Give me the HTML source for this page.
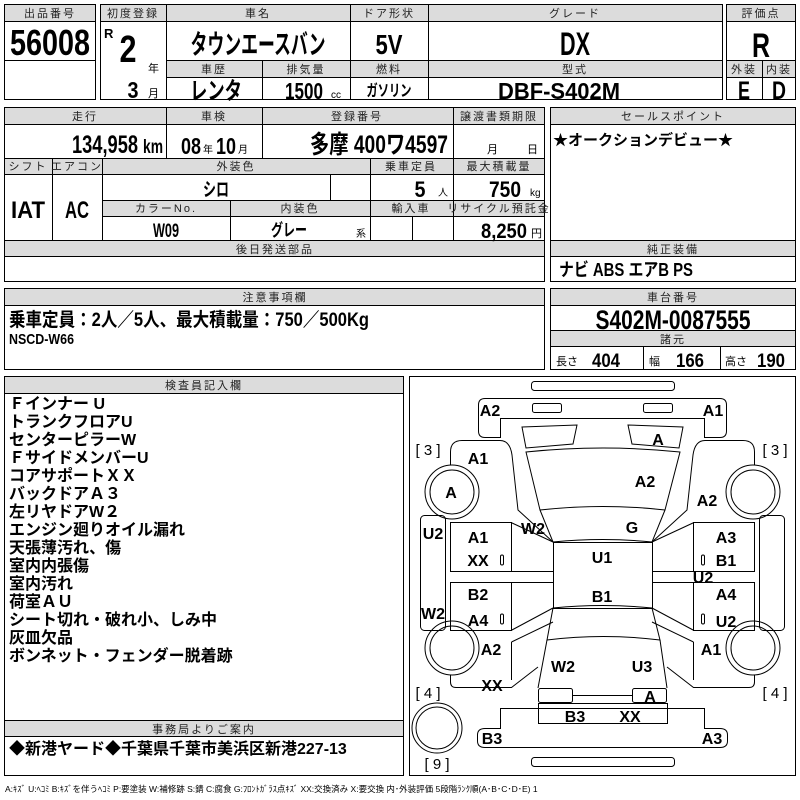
<!DOCTYPE html>
<html><head><meta charset="utf-8"><style>
html,body{margin:0;padding:0;background:#fff;width:800px;height:800px;overflow:hidden}
svg{display:block}
text{font-family:"Liberation Sans","Noto Sans CJK JP",sans-serif;fill:#000}
.h{font-size:11px;text-anchor:middle;letter-spacing:2px;fill:#222}
.b{font-weight:bold;text-anchor:middle}
.hd{fill:#dcdcdc}
.l{font-size:16px;font-weight:bold;text-anchor:middle}
.ln{stroke:#000;stroke-width:1;fill:none}
.ins{font-size:16px;font-weight:bold}
</style></head><body>
<svg width="800" height="800" viewBox="0 0 800 800" xmlns="http://www.w3.org/2000/svg">
<!-- block 1 -->
<rect class="hd" x="4" y="4" width="92" height="17"/>
<rect class="ln" x="4.5" y="4.5" width="91" height="95"/>
<line class="ln" x1="4" y1="21.5" x2="96" y2="21.5"/><line class="ln" x1="4" y1="60.5" x2="96" y2="60.5"/>
<text class="h" x="50" y="17">出品番号</text>
<text class="b" x="50" y="55" font-size="36" textLength="80" lengthAdjust="spacingAndGlyphs">56008</text>
<!-- block 2 -->
<rect class="hd" x="100" y="4" width="623" height="17"/>
<rect class="hd" x="166" y="60" width="557" height="17"/>
<rect class="ln" x="100.5" y="4.5" width="622" height="95"/>
<line class="ln" x1="100" y1="21.5" x2="723" y2="21.5"/>
<line class="ln" x1="166" y1="60.5" x2="723" y2="60.5"/>
<line class="ln" x1="166" y1="77.5" x2="723" y2="77.5"/>
<line class="ln" x1="166.5" y1="4" x2="166.5" y2="100"/>
<line class="ln" x1="350.5" y1="4" x2="350.5" y2="100"/>
<line class="ln" x1="428.5" y1="4" x2="428.5" y2="100"/>
<line class="ln" x1="262.5" y1="60" x2="262.5" y2="100"/>
<text class="h" x="133" y="17" letter-spacing="0">初度登録</text>
<text class="h" x="258" y="17" letter-spacing="8">車名</text>
<text class="h" x="389" y="17" letter-spacing="0">ドア形状</text>
<text class="h" x="575" y="17" letter-spacing="6">グレード</text>
<text x="104" y="38" font-size="13" font-weight="bold">R</text>
<text class="b" x="128" y="62" font-size="38" textLength="17" lengthAdjust="spacingAndGlyphs">2</text>
<text x="148" y="72" font-size="11">年</text>
<text class="b" x="133" y="98" font-size="23" textLength="11" lengthAdjust="spacingAndGlyphs">3</text>
<text x="148" y="97" font-size="11">月</text>
<text class="b" x="258" y="54" font-size="27" textLength="135" lengthAdjust="spacingAndGlyphs">タウンエースバン</text>
<text class="b" x="389" y="54" font-size="28" textLength="27" lengthAdjust="spacingAndGlyphs">5V</text>
<text class="b" x="575" y="55" font-size="32" textLength="30" lengthAdjust="spacingAndGlyphs">DX</text>
<text class="h" x="214" y="73" letter-spacing="6">車歴</text>
<text class="h" x="306" y="73" letter-spacing="4">排気量</text>
<text class="h" x="389" y="73" letter-spacing="4">燃料</text>
<text class="h" x="575" y="73" letter-spacing="4">型式</text>
<text class="b" x="216" y="99" font-size="24" textLength="52" lengthAdjust="spacingAndGlyphs">レンタ</text>
<text class="b" x="304" y="99" font-size="23" textLength="38" lengthAdjust="spacingAndGlyphs">1500</text>
<text x="331" y="98" font-size="10">cc</text>
<text class="b" x="389" y="96" font-size="16" textLength="45" lengthAdjust="spacingAndGlyphs">ガソリン</text>
<text class="b" x="559" y="99" font-size="23" textLength="122" lengthAdjust="spacingAndGlyphs">DBF-S402M</text>
<!-- eval -->
<rect class="hd" x="726" y="4" width="70" height="17"/>
<rect class="hd" x="726" y="60" width="70" height="17"/>
<rect class="ln" x="726.5" y="4.5" width="69" height="95"/>
<line class="ln" x1="726" y1="21.5" x2="796" y2="21.5"/>
<line class="ln" x1="726" y1="60.5" x2="796" y2="60.5"/>
<line class="ln" x1="726" y1="77.5" x2="796" y2="77.5"/>
<line class="ln" x1="762.5" y1="60" x2="762.5" y2="100"/>
<text class="h" x="761" y="17" letter-spacing="0">評価点</text>
<text class="b" x="761" y="57" font-size="34" textLength="18" lengthAdjust="spacingAndGlyphs">R</text>
<text class="h" x="744" y="73" letter-spacing="0">外装</text>
<text class="h" x="779" y="73" letter-spacing="0">内装</text>
<text class="b" x="744" y="99" font-size="25" textLength="12" lengthAdjust="spacingAndGlyphs">E</text>
<text class="b" x="779" y="99" font-size="25" textLength="14" lengthAdjust="spacingAndGlyphs">D</text>
<!-- block 3 -->
<rect class="hd" x="4" y="107" width="541" height="17"/>
<rect class="hd" x="4" y="158" width="541" height="16"/>
<rect class="hd" x="102" y="200" width="443" height="16"/>
<rect class="hd" x="4" y="240" width="541" height="16"/>
<rect class="ln" x="4.5" y="107.5" width="540" height="174"/>
<line class="ln" x1="4" y1="124.5" x2="545" y2="124.5"/>
<line class="ln" x1="4" y1="158.5" x2="545" y2="158.5"/>
<line class="ln" x1="4" y1="174.5" x2="545" y2="174.5"/>
<line class="ln" x1="102" y1="200.5" x2="545" y2="200.5"/>
<line class="ln" x1="102" y1="216.5" x2="545" y2="216.5"/>
<line class="ln" x1="4" y1="240.5" x2="545" y2="240.5"/>
<line class="ln" x1="4" y1="256.5" x2="545" y2="256.5"/>
<line class="ln" x1="166.5" y1="107" x2="166.5" y2="158"/>
<line class="ln" x1="262.5" y1="107" x2="262.5" y2="158"/>
<line class="ln" x1="453.5" y1="107" x2="453.5" y2="240"/>
<line class="ln" x1="52.5" y1="158" x2="52.5" y2="240"/>
<line class="ln" x1="102.5" y1="158" x2="102.5" y2="240"/>
<line class="ln" x1="370.5" y1="158" x2="370.5" y2="240"/>
<line class="ln" x1="330.5" y1="174" x2="330.5" y2="200"/>
<line class="ln" x1="230.5" y1="200" x2="230.5" y2="240"/>
<line class="ln" x1="412.5" y1="216" x2="412.5" y2="240"/>
<text class="h" x="85" y="120" letter-spacing="6">走行</text>
<text class="h" x="214" y="120" letter-spacing="6">車検</text>
<text class="h" x="357" y="120" letter-spacing="6">登録番号</text>
<text class="h" x="499" y="120" letter-spacing="0">譲渡書類期限</text>
<text class="b" x="105" y="153" font-size="25" textLength="66" lengthAdjust="spacingAndGlyphs">134,958</text>
<text x="143" y="153" font-size="19" font-weight="bold" textLength="20" lengthAdjust="spacingAndGlyphs">km</text>
<text class="b" x="191" y="154" font-size="23" textLength="20" lengthAdjust="spacingAndGlyphs">08</text>
<text x="203" y="153" font-size="10">年</text>
<text class="b" x="226" y="154" font-size="23" textLength="20" lengthAdjust="spacingAndGlyphs">10</text>
<text x="238" y="153" font-size="10">月</text>
<text class="b" x="379" y="153" font-size="25" textLength="138" lengthAdjust="spacingAndGlyphs">多摩 400ワ4597</text>
<text x="487" y="153" font-size="11">月</text>
<text x="527" y="153" font-size="11">日</text>
<text class="h" x="28" y="170" letter-spacing="0">シフト</text>
<text class="h" x="77" y="170" letter-spacing="0">エアコン</text>
<text class="h" x="236" y="170" letter-spacing="5">外装色</text>
<text class="h" x="411" y="170" letter-spacing="0">乗車定員</text>
<text class="h" x="499" y="170" letter-spacing="0">最大積載量</text>
<text class="b" x="28" y="218" font-size="24" textLength="34" lengthAdjust="spacingAndGlyphs">IAT</text>
<text class="b" x="77" y="218" font-size="24" textLength="24" lengthAdjust="spacingAndGlyphs">AC</text>
<text class="b" x="216" y="196" font-size="19" textLength="26" lengthAdjust="spacingAndGlyphs">シロ</text>
<text class="b" x="420" y="197" font-size="22" textLength="11" lengthAdjust="spacingAndGlyphs">5</text>
<text x="438" y="196" font-size="10">人</text>
<text class="b" x="505" y="197" font-size="22" textLength="32" lengthAdjust="spacingAndGlyphs">750</text>
<text x="530" y="196" font-size="10">kg</text>
<text class="h" x="166" y="212" letter-spacing="5">カラーNo.</text>
<text class="h" x="300" y="212" letter-spacing="5">内装色</text>
<text class="h" x="411" y="212" letter-spacing="4">輸入車</text>
<text class="h" x="499" y="212" letter-spacing="0">リサイクル預託金</text>
<text class="b" x="166" y="237" font-size="19" textLength="26" lengthAdjust="spacingAndGlyphs">W09</text>
<text class="b" x="289" y="236" font-size="17" textLength="36" lengthAdjust="spacingAndGlyphs">グレー</text>
<text x="356" y="237" font-size="10">系</text>
<text class="b" x="504" y="238" font-size="21" textLength="46" lengthAdjust="spacingAndGlyphs">8,250</text>
<text x="531" y="237" font-size="11">円</text>
<text class="h" x="275" y="253" letter-spacing="6">後日発送部品</text>
<!-- sales point -->
<rect class="hd" x="550" y="107" width="246" height="17"/>
<rect class="hd" x="550" y="240" width="246" height="16"/>
<rect class="ln" x="550.5" y="107.5" width="245" height="174"/>
<line class="ln" x1="550" y1="124.5" x2="796" y2="124.5"/>
<line class="ln" x1="550" y1="240.5" x2="796" y2="240.5"/>
<line class="ln" x1="550" y1="256.5" x2="796" y2="256.5"/>
<text class="h" x="673" y="120" letter-spacing="6">セールスポイント</text>
<text x="553" y="145" font-size="15" font-weight="bold">★オークションデビュー★</text>
<text class="h" x="673" y="253" letter-spacing="6">純正装備</text>
<text x="559" y="276" font-size="18" font-weight="bold" textLength="134" lengthAdjust="spacingAndGlyphs">ナビ ABS エアB PS</text>
<!-- caution -->
<rect class="hd" x="4" y="288" width="541" height="17"/>
<rect class="ln" x="4.5" y="288.5" width="540" height="81"/>
<line class="ln" x1="4" y1="305.5" x2="545" y2="305.5"/>
<text class="h" x="275" y="301" letter-spacing="6">注意事項欄</text>
<text x="9" y="326" font-size="19" font-weight="bold" textLength="360" lengthAdjust="spacingAndGlyphs">乗車定員：2人／5人、最大積載量：750／500Kg</text>
<text x="9" y="344" font-size="15" font-weight="bold" textLength="65" lengthAdjust="spacingAndGlyphs">NSCD-W66</text>
<!-- chassis -->
<rect class="hd" x="550" y="288" width="246" height="17"/>
<rect class="hd" x="550" y="330" width="246" height="16"/>
<rect class="ln" x="550.5" y="288.5" width="245" height="81"/>
<line class="ln" x1="550" y1="305.5" x2="796" y2="305.5"/>
<line class="ln" x1="550" y1="330.5" x2="796" y2="330.5"/>
<line class="ln" x1="550" y1="346.5" x2="796" y2="346.5"/>
<line class="ln" x1="643.5" y1="346" x2="643.5" y2="370"/>
<line class="ln" x1="720.5" y1="346" x2="720.5" y2="370"/>
<text class="h" x="673" y="301" letter-spacing="6">車台番号</text>
<text class="b" x="673" y="329" font-size="27" textLength="155" lengthAdjust="spacingAndGlyphs">S402M-0087555</text>
<text class="h" x="673" y="343" letter-spacing="6">諸元</text>
<text x="556" y="365" font-size="11">長さ</text><text class="b" x="606" y="367" font-size="19" textLength="28" lengthAdjust="spacingAndGlyphs">404</text>
<text x="649" y="365" font-size="11">幅</text><text class="b" x="690" y="367" font-size="19" textLength="28" lengthAdjust="spacingAndGlyphs">166</text>
<text x="725" y="365" font-size="11">高さ</text><text class="b" x="771" y="367" font-size="19" textLength="28" lengthAdjust="spacingAndGlyphs">190</text>
<!-- inspector -->
<rect class="hd" x="4" y="376" width="400" height="17"/>
<rect class="hd" x="4" y="720" width="400" height="16"/>
<rect class="ln" x="4.5" y="376.5" width="399" height="399"/>
<line class="ln" x1="4" y1="393.5" x2="404" y2="393.5"/>
<line class="ln" x1="4" y1="720.5" x2="404" y2="720.5"/>
<line class="ln" x1="4" y1="736.5" x2="404" y2="736.5"/>
<text class="h" x="204" y="389" letter-spacing="6">検査員記入欄</text>
<g class="ins">
<text x="9" y="409">Ｆインナー U</text>
<text x="9" y="427">トランクフロアU</text>
<text x="9" y="445">センターピラーW</text>
<text x="9" y="463">ＦサイドメンバーU</text>
<text x="9" y="481">コアサポートＸＸ</text>
<text x="9" y="499">バックドアＡ３</text>
<text x="9" y="517">左リヤドアW２</text>
<text x="9" y="535">エンジン廻りオイル漏れ</text>
<text x="9" y="553">天張薄汚れ、傷</text>
<text x="9" y="571">室内内張傷</text>
<text x="9" y="589">室内汚れ</text>
<text x="9" y="607">荷室ＡＵ</text>
<text x="9" y="625">シート切れ・破れ小、しみ中</text>
<text x="9" y="643">灰皿欠品</text>
<text x="9" y="661">ボンネット・フェンダー脱着跡</text>
</g>
<text class="h" x="204" y="733" letter-spacing="6">事務局よりご案内</text>
<text x="9" y="754" font-size="16" font-weight="bold">◆新港ヤード◆千葉県千葉市美浜区新港227-13</text>
<text x="5" y="792" font-size="8.5" fill="#333">A:ｷｽﾞ  U:ﾍｺﾐ  B:ｷｽﾞを伴うﾍｺﾐ  P:要塗装  W:補修跡  S:錆  C:腐食  G:ﾌﾛﾝﾄｶﾞﾗｽ点ｷｽﾞ  XX:交換済み  X:要交換   内･外装評価   5段階ﾗﾝｸ順(A･B･C･D･E) 1</text>
<!-- diagram -->
<rect class="ln" x="409.5" y="376.5" width="386" height="399"/>
<rect class="ln" x="531.5" y="381.5" width="143" height="9" rx="3"/>
<rect class="ln" x="531.5" y="757.5" width="143" height="9" rx="3"/>
<g id="half" class="ln">
<path d="M602.5,398.5 L485,398.5 Q478.5,398.5 478.5,405 L478.5,431 Q478.5,437.5 485,437.5 L500.5,437.5 L500.5,418.5 L602.5,418.5"/>
<rect x="532.5" y="403.5" width="29" height="9" rx="2"/>
<path d="M522,427 L577,425 L573,444 L526,448 Z"/>
<path d="M450.5,465 L450.5,452 Q450.5,440.5 462,440.5 L500,440.5 Q510,440.5 512,455 L518,510 L553,542"/>
<circle cx="452" cy="492" r="27"/><circle cx="452" cy="492" r="22"/>
<rect x="450.5" y="522.5" width="61" height="49"/>
<rect x="450.5" y="582.5" width="61" height="48"/>
<line x1="511" y1="571.5" x2="553" y2="571.5"/><line x1="511" y1="582.5" x2="553" y2="582.5"/>
<line x1="511" y1="522.5" x2="553" y2="542"/>
<line x1="511" y1="630.5" x2="553" y2="608"/>
<rect x="420.5" y="515.5" width="25" height="115" rx="4"/>
<path d="M450.5,675 L450.5,682 Q450.5,687.5 456,687.5 L511.5,687.5 L538,667"/>
<path d="M511.5,642 L511.5,680 M511.5,642 L553,622"/>
<circle cx="452" cy="648" r="27"/><circle cx="452" cy="648" r="22"/>
<path d="M602.5,708.5 L500.5,708.5 L500.5,728.5 L485,728.5 Q477.5,728.5 477.5,735 L477.5,741 Q477.5,747.5 485,747.5 L602.5,747.5"/>
<rect x="538.5" y="688.5" width="34" height="14" rx="2"/>
<line x1="572" y1="695.5" x2="602.5" y2="695.5"/>
</g>
<use href="#half" transform="translate(1205,0) scale(-1,1)"/>
<circle class="ln" cx="437" cy="728" r="25"/><circle class="ln" cx="437" cy="728" r="21"/>
<g class="ln">
<path d="M526,452 Q603,444 680,452 L665,510 Q603,503 540,510 Z"/>
<path d="M540,510 L553,542 Q603,537 652,542 L665,510"/>
<rect x="553.5" y="542.5" width="99" height="66"/>
<path d="M553,608 L547,640 Q603,633 660,640 L652,608 Q603,603 553,608"/>
<path d="M547,640 L538,688 M660,640 L667,688"/>
<rect x="538.5" y="703.5" width="129" height="20"/>
<rect x="500.5" y="555" width="3" height="10" rx="1.5"/>
<rect x="500.5" y="614" width="3" height="10" rx="1.5"/>
<rect x="701.5" y="555" width="3" height="10" rx="1.5"/>
<rect x="701.5" y="614" width="3" height="10" rx="1.5"/>
</g>
<g class="l">
<text x="490" y="416">A2</text><text x="713" y="416">A1</text>
<text x="658" y="445">A</text>
<text x="478" y="464">A1</text><text x="451" y="498">A</text>
<text x="645" y="487">A2</text><text x="707" y="506">A2</text>
<text x="533" y="534">W2</text><text x="632" y="533">G</text>
<text x="433" y="539">U2</text><text x="478" y="543">A1</text><text x="478" y="566">XX</text>
<text x="602" y="563">U1</text><text x="726" y="543">A3</text><text x="726" y="566">B1</text>
<text x="703" y="583">U2</text>
<text x="478" y="600">B2</text><text x="602" y="602">B1</text><text x="726" y="600">A4</text>
<text x="433" y="619">W2</text><text x="478" y="626">A4</text><text x="726" y="627">U2</text>
<text x="491" y="655">A2</text><text x="711" y="655">A1</text>
<text x="563" y="672">W2</text><text x="642" y="672">U3</text>
<text x="492" y="691">XX</text><text x="650" y="702">A</text>
<text x="575" y="722">B3</text><text x="630" y="722">XX</text>
<text x="492" y="744">B3</text><text x="712" y="744">A3</text>
</g>
<g font-size="15" text-anchor="middle">
<text x="428" y="455">[ 3 ]</text><text x="775" y="455">[ 3 ]</text>
<text x="428" y="698">[ 4 ]</text><text x="775" y="698">[ 4 ]</text>
<text x="437" y="769">[ 9 ]</text>
</g>
</svg>
</body></html>
